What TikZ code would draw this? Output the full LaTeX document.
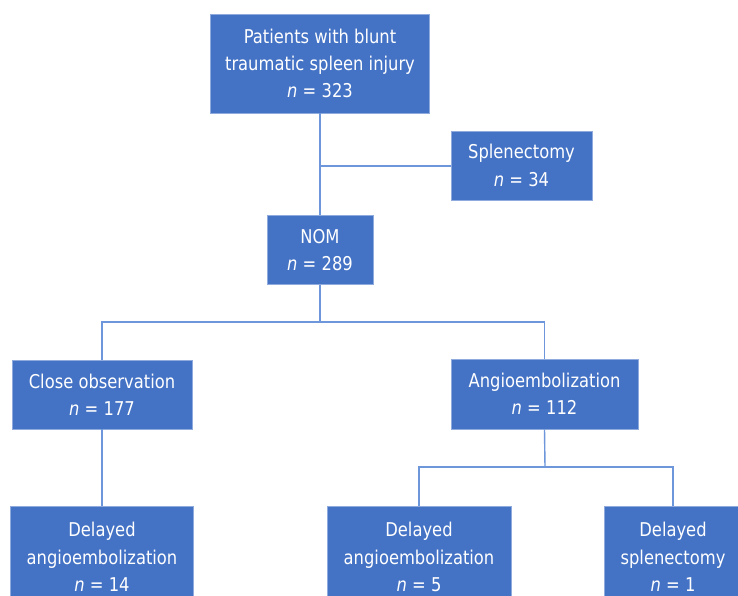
\documentclass[tikz,border=0pt]{standalone}
\usepackage{fontspec}
\setmainfont{DejaVu Sans}[FakeStretch=0.86]
\definecolor{boxblue}{HTML}{4472C4}
\definecolor{edgeblue}{HTML}{8FAADC}
\definecolor{lineblue}{HTML}{6E96DA}
\begin{document}
\begin{tikzpicture}[x=1pt,y=-1pt,
  box/.style={draw=edgeblue, line width=0.8pt, fill=boxblue, text=white, align=center,
    inner sep=0pt, font=\fontsize{19}{27.3}\selectfont},
  conn/.style={draw=lineblue, line width=1.4pt}]
\clip (0,0) rectangle (738,596);
\fill[white] (0,0) rectangle (738,596);
% boxes: centre and size in pixels
\node[box, minimum width=219, minimum height=99] (top) at (320,63.5)
  {Patients with blunt\\traumatic spleen injury\\\textit{n} = 323};
\node[box, minimum width=141, minimum height=69] (spl) at (521.5,165.5)
  {Splenectomy\\\textit{n} = 34};
\node[box, minimum width=106, minimum height=69] (nom) at (320,250)
  {NOM\\\textit{n} = 289};
\node[box, minimum width=180, minimum height=69] (obs) at (102,394.5)
  {Close observation\\\textit{n} = 177};
\node[box, minimum width=187, minimum height=70] (ang) at (544.5,394)
  {Angioembolization\\\textit{n} = 112};
\node[box, minimum width=183, minimum height=102] (da1) at (102,557)
  {Delayed\\angioembolization\\\textit{n} = 14};
\node[box, minimum width=184, minimum height=102] (da2) at (419,557)
  {Delayed\\angioembolization\\\textit{n} = 5};
\node[box, minimum width=138, minimum height=102] (ds) at (673,557)
  {Delayed\\splenectomy\\\textit{n} = 1};
% connectors
\coordinate (j1) at (320,166);
\coordinate (j2) at (320,322);
\coordinate (j3) at (545,467);
\draw[conn] (top.south) -- (nom.north);
\draw[conn] (j1) -- (j1 -| spl.west);
\draw[conn] (nom.south) -- (j2);
\draw[conn] (obs.north) |- (j2) -| (ang.north);
\draw[conn] (obs.south) -- (da1.north);
\draw[conn] (ang.south) -- (j3);
\draw[conn] (da2.north) |- (j3) -| (ds.north);
\end{tikzpicture}
\end{document}
